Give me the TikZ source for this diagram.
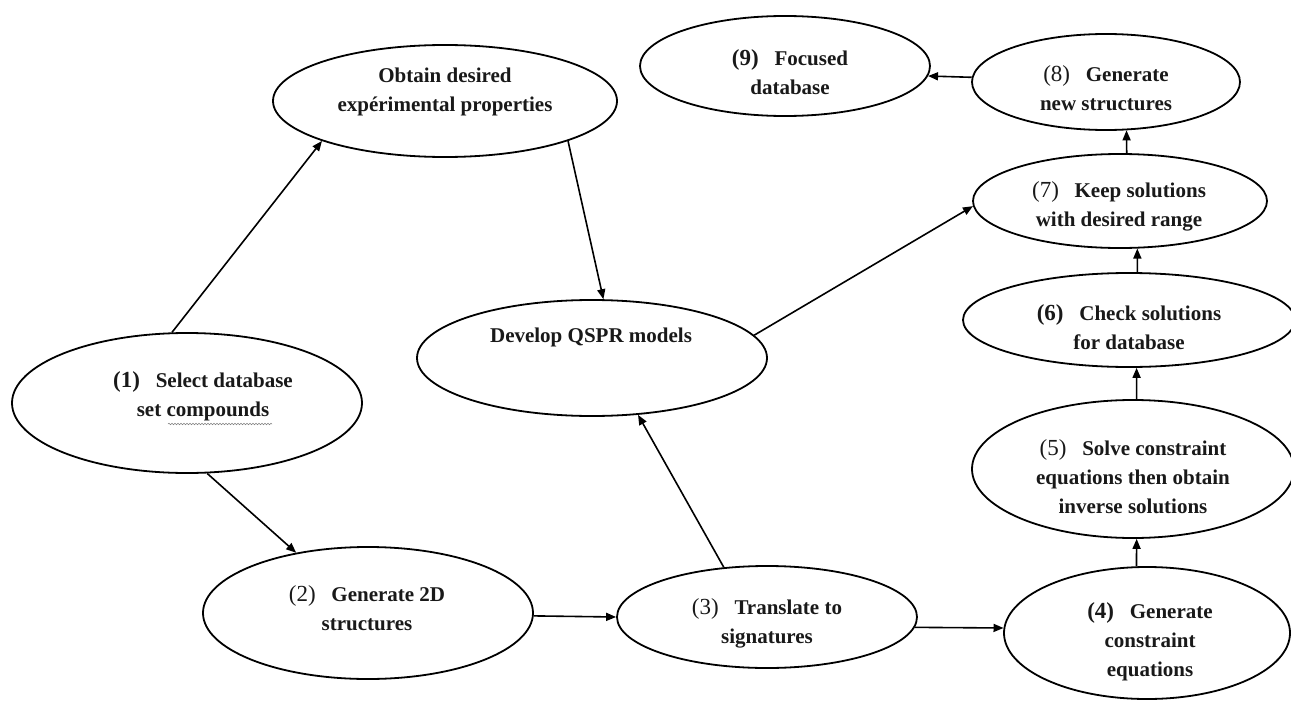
\documentclass[tikz,border=0pt]{standalone}
\usepackage{fontspec}
\setmainfont{Liberation Serif}
\usetikzlibrary{arrows.meta,shapes.geometric,decorations.pathmorphing}
\newcommand{\snum}[1]{{\fontsize{23}{29}\selectfont\mdseries(#1)}\hspace{0.75em}}
\newcommand{\bnum}[1]{{\fontsize{23}{29}\selectfont\bfseries(#1)}\hspace{0.75em}}
\begin{document}
\begin{tikzpicture}[x=1pt,y=-1pt,
  ellnode/.style 2 args={draw, ellipse, line width=1.8pt, inner sep=0pt,
    minimum width=#1pt, minimum height=#2pt},
  lbl/.style={font=\fontsize{21}{29}\selectfont\bfseries, align=center,
    inner sep=0pt, text=black!90},
  arr/.style={-{Triangle[length=10pt,width=8pt]}, line width=1.6pt}]
\fill[white] (0,0) rectangle (1291,701);
\useasboundingbox (0,0) rectangle (1291,701);

% ellipses
\node[ellnode={350}{140}] (e1) at (187,403) {};
\node[ellnode={344}{112}] (obt) at (445,101) {};
\node[ellnode={350}{116}] (qspr) at (592,358) {};
\node[ellnode={330}{132}] (e2) at (368,613) {};
\node[ellnode={300}{102}] (e3) at (767,617) {};
\node[ellnode={286}{132}] (e4) at (1147,633) {};
\node[ellnode={322}{138}] (e5) at (1133,469) {};
\node[ellnode={332}{94}] (e6) at (1129,320) {};
\node[ellnode={294}{94}] (e7) at (1120,201) {};
\node[ellnode={268}{96}] (e8) at (1106,82) {};
\node[ellnode={290}{100}] (e9) at (785,66) {};

% texts
\node[lbl] (t1) at (203,396) {\bnum{1}Select database\\set compounds};
\node[lbl] (tobt) at (445,92) {Obtain desired\\exp\'erimental properties};
\node[lbl] (tqspr) at (591,337) {Develop QSPR models};
\node[lbl] (t2) at (367,608) {\snum{2}Generate 2D\\structures};
\node[lbl] (t3) at (767,623) {\snum{3}Translate to\\signatures};
\node[lbl] (t4) at (1150,642) {\bnum{4}Generate\\constraint\\equations};
\node[lbl] (t5) at (1133,477) {\snum{5}Solve constraint\\equations then obtain\\inverse solutions};
\node[lbl] (t6) at (1129,327) {\bnum{6}Check solutions\\for database};
\node[lbl] (t7) at (1119,206) {\snum{7}Keep solutions\\with desired range};
\node[lbl] (t8) at (1106,88) {\snum{8}Generate\\new structures};
\node[lbl] (t9) at (790,72) {\bnum{9}Focused\\database};

% spell-check underline
\draw[gray, line width=0.5pt, decorate, decoration={snake, amplitude=0.8pt, segment length=3pt}]
  (168,424) -- (272,424);

% connectors
\draw[arr] (e1.102) -- (obt.198);
\draw[arr] (obt.-18) -- (qspr.79);
\draw[arr] (e1.-74) -- (e2.140);
\draw[arr] (e2.-1) -- (e3.west);
\draw[arr] (e3.131) -- (qspr.-51);
\draw[arr] (e3.-4) -- (e4.178);
\draw[arr] (e4.99.5) -- (e5.-87.5);
\draw[arr] (e5.87.5) -- (e6.-81.5);
\draw[arr] (e6.80.3) -- (e7.-70);
\draw[arr] (e7.82.7) -- (e8.-67.4);
\draw[arr] (e8.178) -- (e9.-4.5);
\draw[arr] (qspr.8.6) -- (e7.182);
\end{tikzpicture}
\end{document}
